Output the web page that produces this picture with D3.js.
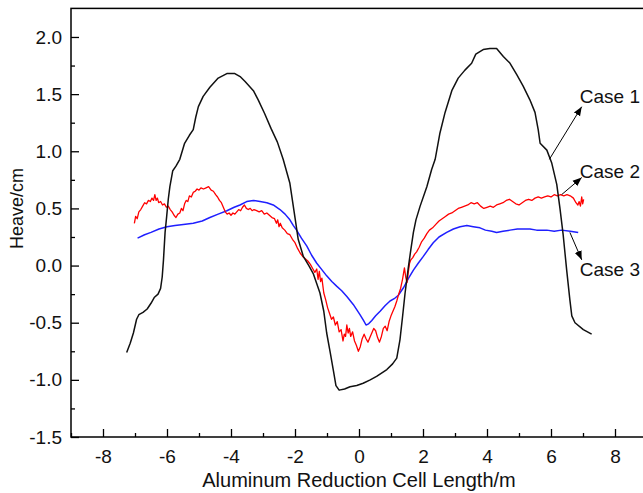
<!DOCTYPE html>
<html>
<head>
<meta charset="utf-8">
<script src="https://cdn.jsdelivr.net/npm/d3@7/dist/d3.min.js"></script>
<style>
  body { margin: 0; background: #fff; }
  svg { display: block; font-family: "Liberation Sans", Arial, sans-serif; }
</style>
</head>
<body>
<div id="chart"></div>
<script>
// Heave along the cell length, three cases
const case1 = [
  [-7.26,-0.76],[-7.15,-0.68],[-7.05,-0.59],[-6.95,-0.47],[-6.88,-0.43],[-6.75,-0.41],[-6.62,-0.38],
  [-6.50,-0.33],[-6.40,-0.28],[-6.28,-0.25],[-6.20,-0.20],[-6.15,-0.10],[-6.11,0.05],[-6.06,0.29],
  [-6.01,0.43],[-5.96,0.58],[-5.91,0.69],[-5.82,0.83],[-5.72,0.87],[-5.60,0.93],[-5.45,1.07],
  [-5.30,1.14],[-5.18,1.19],[-5.10,1.30],[-5.02,1.39],[-4.87,1.48],[-4.66,1.56],[-4.40,1.64],
  [-4.13,1.68],[-3.88,1.68],[-3.70,1.65],[-3.56,1.61],[-3.30,1.53],[-3.15,1.45],[-2.95,1.33],
  [-2.75,1.20],[-2.55,1.08],[-2.37,0.93],[-2.16,0.72],[-2.00,0.42],[-1.90,0.23],[-1.74,0.08],
  [-1.55,-0.01],[-1.43,-0.07],[-1.22,-0.24],[-1.10,-0.40],[-1.01,-0.59],[-0.90,-0.76],[-0.80,-0.92],
  [-0.72,-1.05],[-0.62,-1.09],[-0.45,-1.08],[-0.28,-1.06],[-0.07,-1.05],[0.13,-1.03],[0.35,-1.00],
  [0.55,-0.97],[0.87,-0.91],[1.05,-0.86],[1.18,-0.81],[1.28,-0.65],[1.36,-0.45],[1.44,-0.24],
  [1.54,-0.02],[1.62,0.14],[1.70,0.29],[1.78,0.40],[1.91,0.52],[2.12,0.69],[2.27,0.84],[2.38,0.93],
  [2.53,1.16],[2.69,1.34],[2.90,1.53],[3.10,1.64],[3.31,1.71],[3.52,1.77],[3.65,1.85],[3.88,1.89],
  [4.09,1.90],[4.30,1.90],[4.51,1.83],[4.72,1.77],[4.93,1.67],[5.13,1.57],[5.34,1.45],[5.50,1.34],
  [5.60,1.19],[5.66,1.07],[5.87,1.01],[6.02,0.90],[6.18,0.71],[6.28,0.50],[6.38,0.27],[6.49,-0.04],
  [6.59,-0.30],[6.65,-0.44],[6.75,-0.50],[7.01,-0.56],[7.27,-0.60]
];

const case2 = [
  [-7.02,0.37],[-6.98,0.43],[-6.93,0.41],[-6.88,0.47],[-6.82,0.49],[-6.76,0.52],[-6.70,0.55],
  [-6.64,0.54],[-6.58,0.57],[-6.52,0.56],[-6.47,0.59],[-6.42,0.57],[-6.38,0.62],[-6.34,0.57],
  [-6.30,0.59],[-6.26,0.55],[-6.20,0.56],[-6.14,0.53],[-6.08,0.54],[-6.02,0.51],[-5.96,0.52],
  [-5.90,0.49],[-5.84,0.47],[-5.78,0.44],[-5.72,0.42],[-5.66,0.45],[-5.60,0.46],[-5.55,0.50],
  [-5.50,0.48],[-5.45,0.54],[-5.40,0.57],[-5.35,0.56],[-5.30,0.61],[-5.24,0.60],[-5.18,0.64],
  [-5.12,0.65],[-5.06,0.67],[-5.00,0.66],[-4.94,0.68],[-4.86,0.67],[-4.78,0.68],[-4.70,0.69],
  [-4.62,0.66],[-4.55,0.65],[-4.48,0.62],[-4.42,0.60],[-4.36,0.57],[-4.30,0.55],[-4.24,0.51],
  [-4.18,0.47],[-4.12,0.45],[-4.06,0.46],[-4.00,0.44],[-3.94,0.46],[-3.88,0.45],[-3.82,0.47],
  [-3.76,0.49],[-3.70,0.48],[-3.64,0.51],[-3.58,0.53],[-3.52,0.50],[-3.46,0.49],[-3.40,0.50],
  [-3.34,0.48],[-3.28,0.49],[-3.20,0.48],[-3.12,0.47],[-3.04,0.48],[-2.96,0.45],[-2.88,0.46],
  [-2.80,0.44],[-2.72,0.42],[-2.64,0.41],[-2.58,0.37],[-2.54,0.40],[-2.50,0.34],[-2.46,0.37],
  [-2.40,0.33],[-2.32,0.31],[-2.24,0.28],[-2.16,0.27],[-2.08,0.23],[-2.00,0.20],[-1.92,0.15],
  [-1.84,0.11],[-1.76,0.08],[-1.68,0.06],[-1.60,0.04],[-1.52,0.01],[-1.44,-0.03],[-1.38,-0.06],
  [-1.32,-0.03],[-1.28,-0.12],[-1.24,-0.05],[-1.20,-0.14],[-1.16,-0.11],[-1.10,-0.24],[-1.04,-0.30],
  [-0.98,-0.37],[-0.92,-0.42],[-0.86,-0.47],[-0.80,-0.45],[-0.74,-0.52],[-0.68,-0.49],[-0.62,-0.58],
  [-0.56,-0.56],[-0.50,-0.66],[-0.46,-0.60],[-0.42,-0.62],[-0.38,-0.52],[-0.34,-0.59],[-0.30,-0.55],
  [-0.26,-0.62],[-0.20,-0.58],[-0.14,-0.66],[-0.08,-0.70],[-0.02,-0.75],[0.04,-0.71],[0.10,-0.64],
  [0.16,-0.60],[0.22,-0.64],[0.28,-0.67],[0.34,-0.63],[0.40,-0.59],[0.46,-0.55],[0.52,-0.57],
  [0.58,-0.63],[0.64,-0.67],[0.70,-0.62],[0.76,-0.55],[0.82,-0.53],[0.88,-0.57],[0.94,-0.49],
  [1.00,-0.44],[1.06,-0.40],[1.12,-0.36],[1.18,-0.31],[1.24,-0.25],[1.30,-0.20],[1.36,-0.12],
  [1.42,-0.02],[1.46,-0.10],[1.50,-0.15],[1.54,-0.06],[1.58,0.02],[1.62,0.05],[1.68,0.07],
  [1.74,0.10],[1.80,0.12],[1.88,0.16],[1.96,0.21],[2.04,0.24],[2.12,0.28],[2.20,0.31],[2.30,0.33],
  [2.40,0.36],[2.50,0.39],[2.60,0.41],[2.70,0.43],[2.80,0.45],[2.90,0.46],[3.00,0.48],[3.10,0.50],
  [3.20,0.51],[3.30,0.52],[3.40,0.53],[3.50,0.55],[3.60,0.54],[3.70,0.55],[3.80,0.52],[3.90,0.50],
  [4.00,0.51],[4.10,0.52],[4.20,0.51],[4.30,0.53],[4.40,0.54],[4.50,0.55],[4.60,0.57],[4.70,0.58],
  [4.80,0.56],[4.90,0.54],[5.00,0.53],[5.10,0.55],[5.20,0.57],[5.30,0.58],[5.40,0.57],[5.50,0.59],
  [5.60,0.60],[5.70,0.59],[5.80,0.60],[5.90,0.61],[6.00,0.60],[6.10,0.62],[6.20,0.61],[6.30,0.62],
  [6.40,0.61],[6.50,0.62],[6.60,0.61],[6.70,0.59],[6.78,0.55],[6.84,0.53],[6.88,0.56],[6.92,0.52],
  [6.96,0.60],[6.99,0.54],[7.02,0.58]
];

const case3 = [
  [-6.92,0.24],[-6.70,0.27],[-6.50,0.29],[-6.25,0.32],[-6.00,0.34],[-5.75,0.35],[-5.49,0.36],
  [-5.18,0.37],[-4.90,0.39],[-4.66,0.42],[-4.40,0.45],[-4.13,0.48],[-3.90,0.51],[-3.72,0.53],
  [-3.51,0.56],[-3.30,0.57],[-3.09,0.56],[-2.88,0.55],[-2.68,0.53],[-2.47,0.49],[-2.31,0.45],
  [-2.16,0.40],[-2.05,0.35],[-1.95,0.31],[-1.80,0.24],[-1.63,0.17],[-1.48,0.09],[-1.32,0.02],
  [-1.15,-0.04],[-1.01,-0.09],[-0.85,-0.14],[-0.70,-0.18],[-0.54,-0.22],[-0.38,-0.27],[-0.18,-0.34],
  [0.03,-0.43],[0.14,-0.48],[0.22,-0.52],[0.30,-0.51],[0.40,-0.48],[0.52,-0.44],[0.66,-0.40],
  [0.82,-0.35],[0.97,-0.31],[1.10,-0.29],[1.23,-0.26],[1.40,-0.19],[1.55,-0.11],[1.70,-0.04],
  [1.85,0.02],[2.01,0.08],[2.16,0.14],[2.32,0.20],[2.50,0.25],[2.74,0.29],[2.95,0.32],[3.16,0.34],
  [3.37,0.35],[3.57,0.34],[3.78,0.33],[3.95,0.31],[4.15,0.30],[4.30,0.29],[4.50,0.30],[4.72,0.31],
  [4.95,0.32],[5.13,0.32],[5.34,0.32],[5.55,0.31],[5.87,0.31],[6.10,0.30],[6.33,0.31],[6.60,0.30],
  [6.85,0.29]
];

const xTicks = [-8, -6, -4, -2, 0, 2, 4, 6, 8];
const xMinor = [-9, -7, -5, -3, -1, 1, 3, 5, 7, 9];
const yTicks = [-1.5, -1.0, -0.5, 0.0, 0.5, 1.0, 1.5, 2.0];
const yMinor = [-1.25, -0.75, -0.25, 0.25, 0.75, 1.25, 1.75];

// annotation arrows: from point on curve -> label, in data units
const notes = [
  { label: 'Case 1', from: [5.95, 0.93], to: [6.96, 1.39] },
  { label: 'Case 2', from: [6.33, 0.62], to: [6.96, 0.77] },
  { label: 'Case 3', from: [6.59, 0.29], to: [6.96, 0.05] }
];
const noteText = [[6.9, 1.48], [6.9, 0.82], [6.9, -0.03]];

const width = 643, height = 493;
const svg = d3.select('#chart').append('svg')
  .attr('width', width).attr('height', height);

const x = d3.scaleLinear().domain([-9, 9]).range([71, 647]);
const y = d3.scaleLinear().domain([-1.5, 2.25]).range([437, 8.4]);

// frame
svg.append('rect')
  .attr('x', x(-9)).attr('y', y(2.25))
  .attr('width', x(9) - x(-9)).attr('height', y(-1.5) - y(2.25))
  .attr('fill', 'none').attr('stroke', '#000').attr('stroke-width', 1.5);

// x axis (ticks inward)
svg.append('g').attr('transform', `translate(0,${y(-1.5)})`)
  .call(d3.axisBottom(x).tickValues(xTicks).tickSize(-8).tickPadding(13)
    .tickFormat(d => String(d)));
svg.append('g').attr('transform', `translate(0,${y(-1.5)})`)
  .call(d3.axisBottom(x).tickValues(xMinor).tickSize(-4).tickFormat(''));

// y axis
svg.append('g').attr('transform', `translate(${x(-9)},0)`)
  .call(d3.axisLeft(y).tickValues(yTicks).tickSize(-8).tickPadding(9)
    .tickFormat(d => d.toFixed(1)));
svg.append('g').attr('transform', `translate(${x(-9)},0)`)
  .call(d3.axisLeft(y).tickValues(yMinor).tickSize(-4).tickFormat(''));

svg.selectAll('.domain').remove();
svg.selectAll('.tick line').attr('stroke', '#000').attr('stroke-width', 1.3);
svg.selectAll('.tick text').attr('font-size', 19).attr('fill', '#111')
  .attr('font-family', '"Liberation Sans", Arial, sans-serif');

// axis titles
svg.append('text')
  .attr('x', x(0)).attr('y', 487)
  .attr('text-anchor', 'middle').attr('font-size', 20).attr('fill', '#111')
  .text('Aluminum Reduction Cell Length/m');

svg.append('text')
  .attr('transform', `translate(23,${y(0.5)}) rotate(-90)`)
  .attr('text-anchor', 'middle').attr('font-size', 18).attr('fill', '#111')
  .text('Heave/cm');

// curves
const line = d3.line().x(d => x(d[0])).y(d => y(d[1]));
const series = [
  { data: case3, color: '#1f1fff', w: 1.5 },
  { data: case2, color: '#ff0000', w: 1.3 },
  { data: case1, color: '#111111', w: 1.5 }
];
series.forEach(s => {
  svg.append('path')
    .datum(s.data)
    .attr('d', line)
    .attr('fill', 'none')
    .attr('stroke', s.color)
    .attr('stroke-width', s.w)
    .attr('stroke-linejoin', 'round');
});

// arrows
svg.append('defs').append('marker')
  .attr('id', 'arrow')
  .attr('viewBox', '0 0 10 10')
  .attr('refX', 10).attr('refY', 5)
  .attr('markerWidth', 9).attr('markerHeight', 9)
  .attr('markerUnits', 'userSpaceOnUse')
  .attr('orient', 'auto')
  .append('path').attr('d', 'M0,1 L10,5 L0,9 Z').attr('fill', '#000');

notes.forEach((n, i) => {
  svg.append('line')
    .attr('x1', x(n.from[0])).attr('y1', y(n.from[1]))
    .attr('x2', x(n.to[0])).attr('y2', y(n.to[1]))
    .attr('stroke', '#000').attr('stroke-width', 1)
    .attr('marker-end', 'url(#arrow)');
  svg.append('text')
    .attr('x', x(noteText[i][0])).attr('y', y(noteText[i][1]))
    .attr('dy', '0.35em')
    .attr('font-size', 19).attr('fill', '#111')
    .text(n.label);
});
</script>
</body>
</html>
